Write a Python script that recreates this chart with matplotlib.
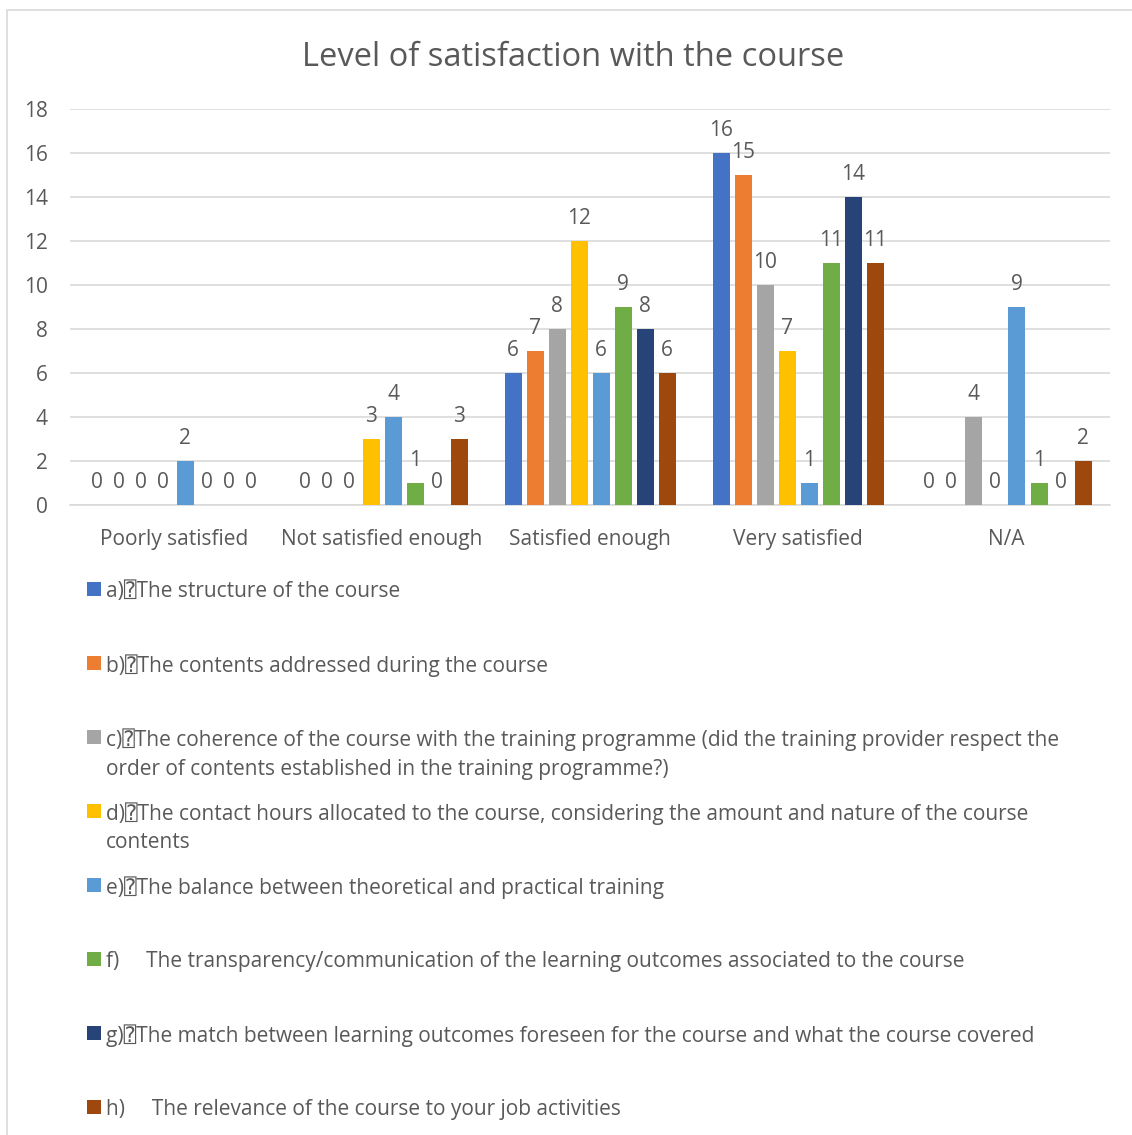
import matplotlib
matplotlib.use("Agg")
import matplotlib.pyplot as plt
from matplotlib.patches import Rectangle
import numpy as np

# ---- data -------------------------------------------------------------
categories = ["Poorly satisfied", "Not satisfied enough", "Satisfied enough",
              "Very satisfied", "N/A"]

a_structure = [0, 0, 6, 16, 0]
b_contents = [0, 0, 7, 15, 0]
c_coherence = [0, 0, 8, 10, 4]
d_contact_hours = [0, 3, 12, 7, 0]
e_balance = [2, 4, 6, 1, 9]
f_transparency = [0, 1, 9, 11, 1]
g_match = [0, 0, 8, 14, 0]
h_relevance = [0, 3, 6, 11, 2]

series_labels = [
    "a)\u2370The structure of the course",
    "b)\u2370The contents addressed during the course",
    "c)\u2370The coherence of the course with the training programme (did the training provider respect the\n"
    "order of contents established in the training programme?)",
    "d)\u2370The contact hours allocated to the course, considering the amount and nature of the course\n"
    "contents",
    "e)\u2370The balance between theoretical and practical training",
    "f)     The transparency/communication of the learning outcomes associated to the course",
    "g)\u2370The match between learning outcomes foreseen for the course and what the course covered",
    "h)     The relevance of the course to your job activities",
]
series_colors = ["#4472C4", "#ED7D31", "#A5A5A5", "#FFC000",
                 "#5B9BD5", "#70AD47", "#264478", "#9E480E"]
series_values = [a_structure, b_contents, c_coherence, d_contact_hours,
                 e_balance, f_transparency, g_match, h_relevance]

y_ticks = [0, 2, 4, 6, 8, 10, 12, 14, 16, 18]
chart_title = "Level of satisfaction with the course"

# ---- style ------------------------------------------------------------
TEXT = "#595959"
GRID = "#D9D9D9"
FONT = ["Open Sans", "DejaVu Sans", "DejaVu Sans Mono"]
plt.rcParams["font.family"] = FONT
FS = 15

W, H, DPI = 1132, 1135, 100
fig = plt.figure(figsize=(W / DPI, H / DPI), dpi=DPI)
fig.patch.set_facecolor("white")


def fx(px):
    return px / W


def fy(py):
    return 1 - py / H


# chart-area frame
fig.patches.append(Rectangle((fx(7), fy(1160)), fx(1160) - fx(7), fy(10) - fy(1160),
                             transform=fig.transFigure, fill=False,
                             edgecolor=GRID, linewidth=1.2))

ax = fig.add_axes([fx(70), fy(505), fx(1110) - fx(70), fy(109) - fy(505)])

x = np.arange(len(categories))
n = len(series_values)
pitch = 22 / 208
width = 17 / 208
for i, (vals, color) in enumerate(zip(series_values, series_colors)):
    xs = x + (i - (n - 1) / 2) * pitch
    ax.bar(xs, vals, width=width, color=color, zorder=3)
    for xi, v in zip(xs, vals):
        ax.annotate(str(v), (xi, v), xytext=(0, 8.5), textcoords="offset points",
                    ha="center", va="bottom", fontsize=FS, color=TEXT)

ax.set_xlim(-0.5, len(categories) - 0.5)
ax.set_ylim(0, 18)
ax.set_yticks(y_ticks)
ax.set_xticks(x)
ax.set_xticklabels(categories)
ax.tick_params(axis="both", length=0, labelsize=FS, colors=TEXT)
ax.tick_params(axis="x", pad=17.5)
ax.tick_params(axis="y", pad=16)
ax.grid(axis="y", color=GRID, linewidth=1.2, zorder=0)
for side in ["top", "right", "left"]:
    ax.spines[side].set_visible(False)
ax.spines["bottom"].set_color(GRID)
ax.spines["bottom"].set_linewidth(1.2)
ax.set_facecolor("white")

fig.text(fx(573), fy(57), chart_title, ha="center", va="center",
         fontsize=23.5, color=TEXT)

# legend below the plot
row_y = 589
for label, color in zip(series_labels, series_colors):
    fig.patches.append(Rectangle((fx(87), fy(row_y + 7)), fx(14), 14 / H,
                                 transform=fig.transFigure, facecolor=color,
                                 edgecolor="none"))
    for k, line in enumerate(label.split("\n")):
        fig.text(fx(106), fy(row_y + 3 + 29 * k), line, ha="left", va="center",
                 fontsize=FS, color=TEXT)
    row_y += 74

fig.savefig("out.png", dpi=DPI, facecolor="white")
